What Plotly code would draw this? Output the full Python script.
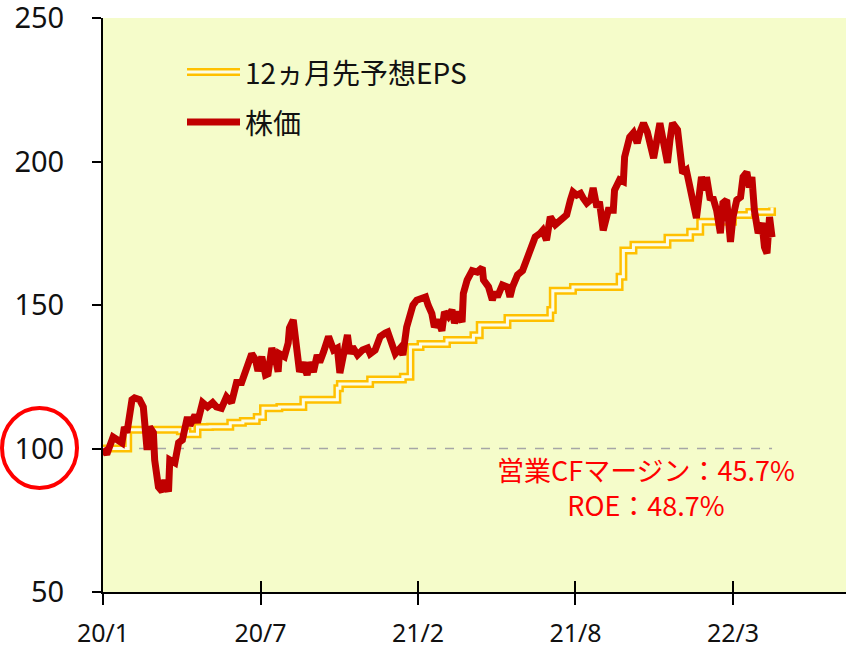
import plotly.graph_objects as go

# trading-day index (x) and index values (start = 100)
price_day = [0, 3, 8, 12, 15, 17, 19, 23, 25, 29, 32, 35, 37, 40, 41, 44, 47, 49, 52, 53,
             57, 60, 63, 67, 69, 73, 75, 79, 83, 87, 90, 94, 98, 102, 106, 110, 113, 115, 118, 121,
             123, 126, 129, 131, 134, 137, 139, 140, 144, 147, 148, 151, 154, 156, 159, 162, 164, 167, 170, 172,
             175, 179, 183, 186, 188, 190, 194, 196, 198, 202, 206, 210, 212, 216, 220, 224, 226, 229, 232, 236,
             238, 241, 244, 246, 249, 253, 256, 258, 261, 263, 266, 269, 271, 274, 277, 279, 282, 285, 286, 289,
             293, 297, 301, 302, 306, 309, 311, 313, 317, 321, 323, 325, 329, 333, 335, 337, 340, 343, 347, 349,
             352, 355, 359, 361, 364, 368, 371, 373, 376, 379, 381, 384, 387, 389, 392, 394, 397, 401, 405, 406,
             410, 413, 414, 416, 418, 421, 424, 426, 429, 432, 434, 437, 440, 442, 445, 448, 450, 452, 456, 458,
             460, 463, 466, 468, 471, 474, 475, 478, 479, 482, 484, 487, 490, 492, 495, 498, 500, 503, 506, 508,
             511, 513, 515, 517, 520, 523, 525, 527, 528, 529, 531]
price = [100, 98, 104, 103, 102, 107.5, 105.5, 117, 117.6, 117, 114.5, 99.5, 107.5, 105.5, 96, 86.6, 85, 89, 85, 96,
         95, 102, 103, 111, 108, 111.7, 109, 116, 114.5, 116, 114.5, 114, 118, 116, 123, 123, 126.7, 128, 133, 131,
         127, 132, 125.6, 126, 135, 131, 126.7, 133, 132, 136.8, 142, 144.8, 132, 126.7, 130, 125.6, 130, 126.7, 132.6, 130,
         133.6, 139, 134.3, 135, 126.3, 130, 139.6, 133, 135.4, 132.6, 134.3, 135, 133, 134.3, 139, 140.2, 140.6, 136.8, 133, 135,
         132.6, 142.3, 146.5, 150, 151.7, 152.4, 152.8, 150, 147, 142.3, 144.8, 141, 147.6, 146, 148.3, 143.7, 147.6, 144, 154, 158.7,
         162, 161.5, 163, 158.7, 156.3, 151.7, 154.5, 152.8, 157, 156.3, 152.8, 156.3, 160.5, 162, 164.6, 166.4, 171, 173.7, 175, 176,
         172.6, 180.7, 178, 178.6, 179.6, 181.4, 186.6, 189.4, 188.3, 188.9, 187.3, 185.5, 186.6, 190.8, 184, 186, 176, 183, 183, 190,
         193.6, 193, 201.6, 205.7, 208.5, 210, 206.4, 210, 213.4, 210.3, 206.4, 201.2, 208.5, 213.4, 206.4, 199.5, 207.5, 213.4, 211, 205,
         196, 197, 189, 186.6, 180.3, 191, 194.6, 190, 194.6, 186.6, 187.6, 183, 175, 185.5, 186.6, 172, 180.7, 186.6, 187.6, 194.6,
         196.3, 191, 194.6, 183, 175, 178.6, 170.2, 168, 178.6, 180.7, 173.6]

eps_day = [0, 20, 61, 67, 75, 85, 101, 111, 122, 127, 140, 159, 186, 188, 212, 238, 244, 252, 273, 294,
           299, 321, 355, 357, 373, 410, 413, 421, 448, 466, 474, 500, 513, 531]
eps = [100, 106.5, 106, 105, 107.5, 107.6, 109, 109.6, 111, 114, 114.5, 117, 121, 122.5, 124, 125, 135.4, 136.4, 137.8, 139.5,
       143, 145.5, 148.3, 155, 156.3, 159.8, 169, 171, 173.4, 175.5, 179, 181.4, 182.4, 184]

tick_days = [0, 125, 250, 375, 500]
tick_text = ["20/1", "20/7", "21/2", "21/8", "22/3"]
y_ticks = [50, 100, 150, 200, 250]

base = 100
note_lines = ["営業CFマージン：45.7%", "ROE：48.7%"]
eps_name = "12ヵ月先予想EPS"
price_name = "株価"

num_font = "Noto Sans, Noto Sans CJK JP"
jp_font = "Noto Sans CJK JP"

fig = go.Figure()

# dashed base line at 100
fig.add_trace(go.Scatter(x=[price_day[0], price_day[-1]], y=[base, base], mode="lines",
                         line=dict(color="#a6a6a6", width=1.5, dash="dash"), hoverinfo="skip"))

# EPS drawn as double line: outer yellow + pale inner line
fig.add_trace(go.Scatter(x=eps_day, y=eps, mode="lines", line=dict(color="#ffc000", width=8, shape="hv")))
fig.add_trace(go.Scatter(x=eps_day, y=eps, mode="lines", line=dict(color="#fbfde6", width=3, shape="hv")))

fig.add_trace(go.Scatter(x=price_day, y=price, mode="lines",
                         line=dict(color="#c00000", width=7, shape="linear")))

# inside half of the x-axis cross ticks
fig.add_trace(go.Scatter(x=[None], y=[None], xaxis="x2", showlegend=False))

fig.update_layout(
    width=846, height=659,
    margin=dict(l=103, r=0, t=18, b=67),
    paper_bgcolor="white",
    plot_bgcolor="#f5fcca",
    showlegend=False,
    xaxis=dict(range=[0, 589.7], tickvals=tick_days, ticktext=tick_text, showgrid=False, zeroline=False,
               automargin=False,
               showline=True, linecolor="black", linewidth=2, ticks="outside", ticklen=11, tickwidth=1.5,
               tickcolor="black", tickfont=dict(family=num_font, size=25, color="#111"),
               ticklabelstandoff=7),
    xaxis2=dict(range=[0, 589.7], overlaying="x", anchor="y", side="bottom", tickvals=tick_days,
                automargin=False,
                showticklabels=False, showgrid=False, zeroline=False, ticks="inside", ticklen=11, tickwidth=1.5,
                tickcolor="black"),
    yaxis=dict(range=[50, 250], tickvals=y_ticks, showgrid=False, zeroline=False, showline=True,
               automargin=False, ticklabeloverflow="allow",
               linecolor="black", linewidth=2, ticks="outside", ticklen=9, tickwidth=1.5, tickcolor="black",
               tickfont=dict(family=num_font, size=29, color="#111"), ticklabelstandoff=22),
)

# red circle round the 100 label
fig.add_shape(type="circle", xref="paper", yref="paper", layer="above",
              x0=-101 / 743, x1=-26 / 743, y0=(592 - 488) / 574, y1=(592 - 408) / 574,
              line=dict(color="#ff0000", width=4))

# custom legend
fig.add_shape(type="line", xref="paper", yref="paper", x0=84 / 743, x1=137 / 743,
              y0=(592 - 72) / 574, y1=(592 - 72) / 574, line=dict(color="#ffc000", width=8))
fig.add_shape(type="line", xref="paper", yref="paper", x0=84 / 743, x1=137 / 743,
              y0=(592 - 72) / 574, y1=(592 - 72) / 574, line=dict(color="#fbfde6", width=3))
fig.add_shape(type="line", xref="paper", yref="paper", x0=84 / 743, x1=137 / 743,
              y0=(592 - 122) / 574, y1=(592 - 122) / 574, line=dict(color="#c00000", width=7))
fig.add_annotation(text=eps_name, xref="paper", yref="paper", x=140 / 743, y=(592 - 72) / 574,
                   xanchor="left", yanchor="middle", showarrow=False,
                   font=dict(family=jp_font, size=28, color="#111"))
fig.add_annotation(text=price_name, xref="paper", yref="paper", x=140 / 743, y=(592 - 122) / 574,
                   xanchor="left", yanchor="middle", showarrow=False,
                   font=dict(family=jp_font, size=28, color="#111"))

# margin / ROE note
fig.add_annotation(text="<br>".join(note_lines), xref="paper", yref="paper", x=543 / 743, y=(592 - 487) / 574,
                   xanchor="center", yanchor="middle", align="center", showarrow=False,
                   font=dict(family=jp_font, size=27, color="#ff0000"))

# drop the default 8px page margin so the figure fills the window
fig.write_html("out.html", config={"displayModeBar": False},
               post_script="document.body.style.margin = '0';")
